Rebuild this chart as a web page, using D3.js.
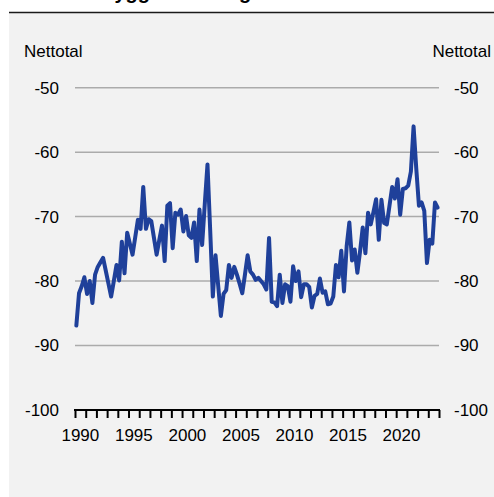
<!DOCTYPE html>
<html>
<head>
<meta charset="utf-8">
<script src="https://cdn.jsdelivr.net/npm/d3@7"></script>
<style>
  html, body { margin: 0; padding: 0; background: #ffffff; }
  svg { display: block; }
  text { font-family: "Liberation Sans", Arial, sans-serif; fill: #000; }
</style>
</head>
<body>
<svg id="chart" width="494" height="497"></svg>
<script>
// ---- Data (quarterly, 1990 K1 - 2023 K4) ----
const startYear = 1990;
const values = [
  -86.9, -81.9, -80.8, -79.4,  -82.0, -80.0, -83.4, -79.0,
  -77.8, -77.1, -76.4, -78.4,  -80.4, -82.4, -80.0, -77.5,
  -79.9, -73.9, -78.8, -72.5,  -74.2, -75.9, -73.2, -70.5,
  -71.9, -65.4, -71.9, -70.4,  -70.7, -73.3, -75.9, -73.6,
  -71.4, -76.9, -68.3, -67.9,  -74.9, -69.4, -69.7, -68.9,
  -72.3, -69.9, -72.9, -73.3,  -70.9, -76.9, -68.9, -74.4,
  -68.0, -61.9, -72.0, -82.4,  -76.0, -80.7, -85.4, -82.0,
  -81.4, -77.5, -79.5, -77.8,  -79.0, -80.4, -81.9, -79.0,
  -76.0, -78.5, -79.0, -79.8,  -79.5, -80.0, -80.5, -81.3,
  -73.3, -83.2, -83.3, -83.9,  -79.0, -83.4, -80.5, -80.8,
  -83.2, -77.7, -80.0, -78.5,  -82.5, -80.5, -80.5, -80.9,
  -84.1, -82.3, -82.0, -79.6,  -81.8, -81.6, -83.6, -83.5,
  -82.4, -77.5, -79.4, -75.3,  -81.6, -74.6, -70.9, -76.8,
  -75.1, -78.7, -75.4, -71.7,  -75.7, -69.4, -71.2, -69.3,
  -67.3, -73.6, -67.4, -71.0,  -71.2, -68.3, -65.4, -67.2,
  -64.2, -69.7, -65.7, -65.6,  -65.2, -63.0, -56.0, -62.5,
  -68.3, -67.8, -69.1, -77.2,  -73.6, -74.2, -67.8, -68.6
];
const yTicks = [-100, -90, -80, -70, -60, -50];
const xLabelYears = [1990, 1995, 2000, 2005, 2010, 2015, 2020];
const unitLabel = "Nettotal";
const titleText = "Byggeri af bolig";

const data = values.map((v, i) => ({ t: startYear + (i + 0.5) / 4, v: v }));

// ---- Layout ----
const W = 494, H = 497;
const svg = d3.select("#chart");
const FONT = '"Liberation Sans", Arial, sans-serif';

// panel background
svg.append("rect").attr("x", 9).attr("y", 12).attr("width", W - 9).attr("height", H - 12)
  .attr("fill", "#f2f2f2");
svg.append("line").attr("x1", 9).attr("x2", W).attr("y1", 12.5).attr("y2", 12.5)
  .attr("stroke", "#1a1a1a").attr("stroke-width", 1.6);

// title (cut off at the top in the reference, only descenders visible)
svg.append("text").attr("x", 100).attr("y", -1.5)
  .attr("font-size", 20).attr("font-weight", "bold").text(titleText);

const x = d3.scaleLinear().domain([1990, 2024]).range([75, 439]);
const y = d3.scaleLinear().domain([-100, -50]).range([410, 87.7]);

// gridlines
svg.append("g").selectAll("line").data(yTicks.filter(d => d !== -100)).join("line")
  .attr("x1", 75).attr("x2", 439)
  .attr("y1", d => y(d)).attr("y2", d => y(d))
  .attr("stroke", "#ababab").attr("stroke-width", 1.5);

const fmt = d => String(d);

// left axis labels
const yAxisL = d3.axisLeft(y).tickValues(yTicks).tickSize(0).tickPadding(0).tickFormat(fmt);
const gl = svg.append("g").attr("transform", "translate(59,0)").call(yAxisL);
gl.select(".domain").remove();
gl.selectAll("text").attr("font-size", 17).attr("font-family", FONT).attr("fill", "#000");

// right axis labels
const yAxisR = d3.axisRight(y).tickValues(yTicks).tickSize(0).tickPadding(0).tickFormat(fmt);
const gr = svg.append("g").attr("transform", "translate(454,0)").call(yAxisR);
gr.select(".domain").remove();
gr.selectAll("text").attr("font-size", 17).attr("font-family", FONT).attr("fill", "#000");

// unit labels
svg.append("text").attr("x", 24).attr("y", 57).attr("font-size", 17).text(unitLabel);
svg.append("text").attr("x", 491).attr("y", 57).attr("font-size", 17).attr("text-anchor", "end").text(unitLabel);

// x axis with yearly ticks
const years = d3.range(1990, 2025);
const xAxis = d3.axisBottom(x).tickValues(years).tickSize(8).tickFormat("");
const gx = svg.append("g").attr("transform", "translate(0,410)").call(xAxis);
gx.select(".domain").attr("stroke", "#000").attr("stroke-width", 2).attr("d", "M74,0H440");
gx.selectAll(".tick line").attr("stroke", "#000").attr("stroke-width", 2);

// year labels centered in year band
svg.append("g").selectAll("text").data(xLabelYears).join("text")
  .attr("x", d => x(d + 0.5)).attr("y", 441)
  .attr("text-anchor", "middle").attr("font-size", 17)
  .text(d => d);

// line
const line = d3.line().x(d => x(d.t)).y(d => y(d.v));
svg.append("path").datum(data).attr("d", line)
  .attr("fill", "none").attr("stroke", "#1f409a").attr("stroke-width", 4)
  .attr("stroke-linejoin", "round").attr("stroke-linecap", "round");
</script>
</body>
</html>
